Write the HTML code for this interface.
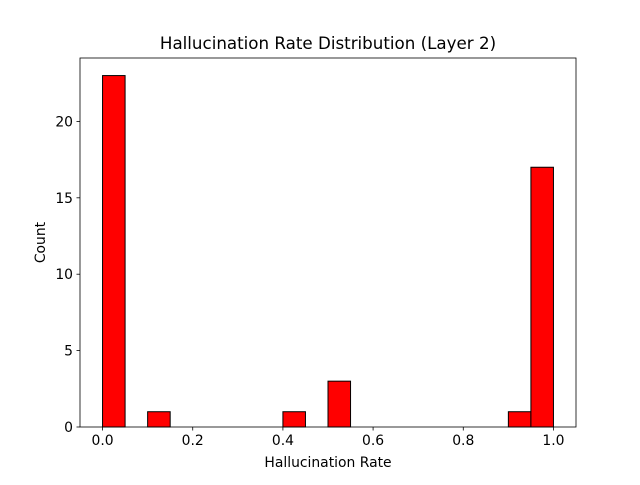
<!DOCTYPE html>
<html><head><meta charset="utf-8"><style>
body{margin:0;background:#fff;}
svg text{font-family:"DejaVu Sans","Liberation Sans",sans-serif;}
</style></head><body>
<svg id="chart" width="640" height="480" viewBox="0 0 640 480">
<rect width="640" height="480" fill="#fff"/>
<text x="328" y="49" font-size="16.7" text-anchor="middle">Hallucination Rate Distribution (Layer 2)</text>
<g id="bars"></g>
<g id="xticks"></g>
<g id="yticks"></g>
<rect x="80" y="58" width="496" height="369" fill="none" stroke="#000" stroke-width="0.8"/>
<text x="328" y="467" font-size="13.9" text-anchor="middle">Hallucination Rate</text>
<text x="45" y="242.5" font-size="13.9" text-anchor="middle" transform="rotate(-90 45 242.5)">Count</text>
</svg>
<script>
const binStart = 0, binWidth = 0.05;
const counts = [23,0,1,0,0,0,0,0,1,0,3,0,0,0,0,0,0,0,1,17];
const xTicks = [0.0,0.2,0.4,0.6,0.8,1.0];
const xTickLabels = ["0.0","0.2","0.4","0.6","0.8","1.0"];
const yTicks = [0,5,10,15,20];
const yTickLabels = ["0","5","10","15","20"];

const L=80,R=576,T=58,B=427;
const xmin=-0.05,xmax=1.05,ymax=Math.max(...counts)*1.05;
const xs=v=>L+(v-xmin)/(xmax-xmin)*(R-L);
const ys=v=>B-v/ymax*(B-T);
const NS="http://www.w3.org/2000/svg";
const bars=document.getElementById('bars');
counts.forEach((c,i)=>{
  if(c<=0) return;
  const x0=xs(binStart+i*binWidth),x1=xs(binStart+(i+1)*binWidth);
  const r=document.createElementNS(NS,'rect');
  r.setAttribute('x',x0);r.setAttribute('y',ys(c));
  r.setAttribute('width',x1-x0);r.setAttribute('height',B-ys(c));
  r.setAttribute('fill','#ff0000');r.setAttribute('stroke','#000');r.setAttribute('stroke-width','1');
  
  
  bars.appendChild(r);
});
const xg=document.getElementById('xticks');
xTicks.forEach((v,i)=>{
  const x=xs(v);
  const l=document.createElementNS(NS,'line');
  l.setAttribute('x1',x);l.setAttribute('x2',x);l.setAttribute('y1',B);l.setAttribute('y2',B+3.5);
  l.setAttribute('stroke','#000');l.setAttribute('stroke-width','0.8');
  
  
  xg.appendChild(l);
  const t=document.createElementNS(NS,'text');
  t.setAttribute('x',x);t.setAttribute('y',B+18);t.setAttribute('font-size','13.9');t.setAttribute('text-anchor','middle');
  t.textContent=xTickLabels[i];
  
  
  xg.appendChild(t);
});
const yg=document.getElementById('yticks');
yTicks.forEach((v,i)=>{
  const y=ys(v);
  const l=document.createElementNS(NS,'line');
  l.setAttribute('x1',L-3.5);l.setAttribute('x2',L);l.setAttribute('y1',y);l.setAttribute('y2',y);
  l.setAttribute('stroke','#000');l.setAttribute('stroke-width','0.8');
  
  
  yg.appendChild(l);
  const t=document.createElementNS(NS,'text');
  t.setAttribute('x',L-7);t.setAttribute('y',y+5);t.setAttribute('font-size','13.9');t.setAttribute('text-anchor','end');
  t.textContent=yTickLabels[i];
  
  
  yg.appendChild(t);
});
</script>
</body></html>
